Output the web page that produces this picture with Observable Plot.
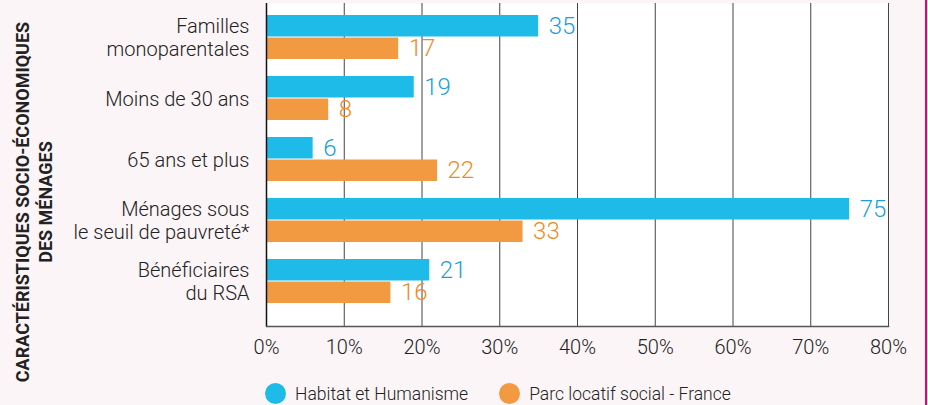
<!DOCTYPE html>
<html><head><meta charset="utf-8">
<script src="https://cdn.jsdelivr.net/npm/d3@7"></script>
<script src="https://cdn.jsdelivr.net/npm/@observablehq/plot@0.6"></script>
<style>
body{margin:0;background:#fcf5f7;font-family:Roboto,sans-serif;}
#wrap{position:relative;width:928px;height:405px;overflow:hidden;}
#chart{position:absolute;left:0;top:0;}
#edge{position:absolute;left:925px;top:0;width:2px;height:405px;background:#e4007c;}
#legend{position:absolute;left:265px;top:383px;display:flex;align-items:center;font-size:17.5px;color:#222;font-weight:300;}
.item{display:flex;align-items:center;margin-right:31px;}
.sw{width:21px;height:21px;border-radius:50%;margin-right:9px;}
</style></head><body>
<div id="wrap"><div id="chart"></div><div id="legend"></div><div id="edge"></div></div>
<script>
const categories = ["Familles\nmonoparentales", "Moins de 30 ans", "65 ans et plus", "Ménages sous\nle seuil de pauvreté*", "Bénéficiaires\ndu RSA"];
const seriesNames = ["Habitat et Humanisme", "Parc locatif social - France"];
const habitat = [35, 19, 6, 75, 21];
const parc = [17, 8, 22, 33, 16];
const xTicks = [0, 10, 20, 30, 40, 50, 60, 70, 80];
const yTitle = "CARACTÉRISTIQUES SOCIO-ÉCONOMIQUES\nDES MÉNAGES";
const barColors = ["#1ebbe9", "#f29a42"];
const labelColors = ["#1b9edb", "#ee8a24"];

const rowsH = categories.map((c, i) => ({cat: c, series: seriesNames[0], value: habitat[i]}));
const rowsP = categories.map((c, i) => ({cat: c, series: seriesNames[1], value: parc[i]}));

const chart = Plot.plot({
  width: 928, height: 405,
  marginLeft: 266, marginRight: 40, marginTop: 3, marginBottom: 79,
  style: {background: "transparent", overflow: "visible", fontFamily: "Roboto, sans-serif", color: "#222"},
  x: {domain: [0, 80]},
  y: {domain: categories, paddingInner: 0.274, paddingOuter: 0.242, align: 0.34},
  marks: [
    Plot.frame({fill: "white", stroke: null}),
    Plot.ruleX(xTicks.slice(1), {stroke: "#444", strokeWidth: 1}),
    Plot.barX(rowsH, {x: "value", y: "cat", fill: barColors[0], insetBottom: 22.5}),
    Plot.barX(rowsP, {x: "value", y: "cat", fill: barColors[1], insetTop: 22.5}),
    Plot.ruleX([0], {stroke: "#111", strokeWidth: 1.5}),
    Plot.frame({anchor: "bottom", stroke: "#555", strokeWidth: 1.5}),
    Plot.text(rowsH, {x: "value", y: "cat", text: d => String(d.value), dx: 10, dy: -11.25, textAnchor: "start", fill: labelColors[0], fontSize: 24, fontWeight: 300}),
    Plot.text(rowsP, {x: "value", y: "cat", text: d => String(d.value), dx: 10, dy: 11.25, textAnchor: "start", fill: labelColors[1], fontSize: 24, fontWeight: 300}),
    Plot.axisX({ticks: xTicks, tickFormat: d => d + "%", tickSize: 0, tickPadding: 13, fontSize: 20, fontWeight: 300, label: null}),
    Plot.axisY({tickSize: 0, tickPadding: 17, fontSize: 20, fontWeight: 300, label: null, lineHeight: 1.15}),
    Plot.text([yTitle], {text: d => d, frameAnchor: "left", textAnchor: "middle", lineAnchor: "middle", rotate: -90, dx: -233, dy: 37, fontSize: 18, fontWeight: "bold", lineHeight: 1.25, fill: "#222"})
  ]
});
document.getElementById("chart").append(chart);

const legend = document.getElementById("legend");
seriesNames.forEach((name, i) => {
  const item = document.createElement("div");
  item.className = "item";
  const sw = document.createElement("span");
  sw.className = "sw";
  sw.style.background = barColors[i];
  const t = document.createElement("span");
  t.textContent = name;
  item.append(sw, t);
  legend.append(item);
});
</script>
</body></html>
